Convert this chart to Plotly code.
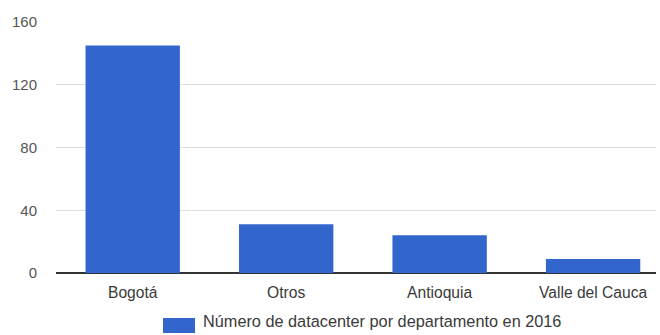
import plotly.graph_objects as go

# Data: number of datacenters per department (2016)
departamentos = ["Bogotá", "Otros", "Antioquia", "Valle del Cauca"]
datacenters = [145, 31, 24, 9]
y_ticks = [0, 40, 80, 120, 160]
serie_nombre = "Número de datacenter por departamento en 2016"

BAR_COLOR = "#3366cc"
FONT = "Liberation Sans, Arial, sans-serif"

fig = go.Figure(
    go.Bar(
        x=departamentos,
        y=datacenters,
        name=serie_nombre,
        marker=dict(color=BAR_COLOR, line=dict(width=0)),
        showlegend=False,
    )
)

fig.update_layout(
    width=660,
    height=335,
    margin=dict(l=56, r=4, t=22, b=62),
    paper_bgcolor="white",
    plot_bgcolor="white",
    bargap=0.385,
    font=dict(family=FONT, size=15, color="#444444"),
    xaxis=dict(
        range=[-0.5, 3.41],
        showgrid=False,
        showline=False,
        zeroline=False,
        ticks="outside",
        ticklen=5,
        tickcolor="rgba(0,0,0,0)",
        tickfont=dict(size=15.6, color="#3a3a3a"),
    ),
    yaxis=dict(
        range=[0, 160],
        tickvals=y_ticks,
        showgrid=True,
        gridcolor="#dedede",
        gridwidth=1,
        zeroline=True,
        zerolinecolor="#333333",
        zerolinewidth=2,
        showline=False,
        ticks="outside",
        ticklen=15,
        tickcolor="rgba(0,0,0,0)",
        tickfont=dict(size=15, color="#555555"),
    ),
)

# Legend swatch and label drawn below the plot
fig.add_shape(
    type="rect", xref="paper", yref="paper",
    x0=(163 - 56) / 600, x1=(195 - 56) / 600,
    y0=-(318 - 273) / 251, y1=-(333 - 273) / 251,
    fillcolor=BAR_COLOR, line=dict(width=0),
)
fig.add_annotation(
    xref="paper", yref="paper",
    x=(201 - 56) / 600, y=-(321 - 273) / 251,
    xanchor="left", yanchor="middle",
    text=serie_nombre, showarrow=False,
    font=dict(family=FONT, size=16.3, color="#3a3a3a"),
)

fig.write_html("out.html")
